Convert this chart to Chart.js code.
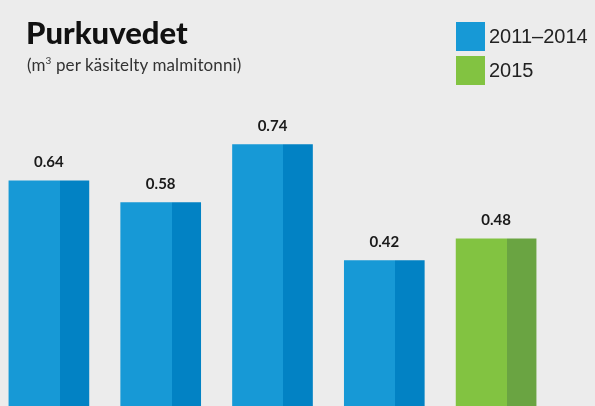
<!DOCTYPE html>
<html>
<head>
<meta charset="utf-8">
<script src="https://cdn.jsdelivr.net/npm/chart.js@4.4.0/dist/chart.umd.min.js"></script>
<style>
  html, body { margin: 0; padding: 0; background: #ececec; }
  body { width: 595px; height: 406px; overflow: hidden; position: relative; font-family: 'Lato', 'Noto Sans', sans-serif; }
  #title { position: absolute; left: 26px; top: 14px; font-size: 31px; font-weight: 900; color: #111; line-height: 36px; }
  #subtitle { position: absolute; left: 27px; top: 50px; font-size: 17px; letter-spacing: 0.1px; color: #333; line-height: 20px; }
  #legend { position: absolute; left: 456px; top: 22px; }
  .item { display: flex; align-items: center; height: 29px; margin-bottom: 5px; }
  .box { width: 29px; height: 29px; margin-right: 4px; }
  .lbl { font-family: 'Liberation Sans', 'Arial', sans-serif; font-size: 20px; color: #222; }
  #wrap { position: absolute; left: -7px; top: 0; width: 559px; height: 413px; }
</style>
</head>
<body>
<div id="wrap"><canvas id="grafica"></canvas></div>
<div id="title">Purkuvedet</div>
<div id="subtitle">(m<sup style="font-size:10px">3</sup> per käsitelty malmitonni)</div>
<div id="legend"></div>
<script>
// datos
const vuodet = ['2011', '2012', '2013', '2014', '2015'];
const arvot = [0.64, 0.58, 0.74, 0.42, 0.48];
const jakso = [0, 0, 0, 0, 1]; // 0 = 2011–2014, 1 = 2015
const jaksoNimet = ['2011–2014', '2015'];
const vaaleat = ['#1799d6', '#82c341'];
const tummat = ['#0282c4', '#6aa442'];

// leyenda
const $legend = document.querySelector('#legend');
jaksoNimet.forEach((n, i) => {
    $legend.innerHTML += '<div class="item"><div class="box" style="background:' + vaaleat[i] + '"></div><span class="lbl">' + n + '</span></div>';
});

const BAR_W = 80;
const LIGHT_W = 51;

// color de dos tonos por barra
const kaksiSavya = (ctx) => {
    const k = jakso[ctx.dataIndex] || 0;
    const x = ctx.chart.scales.x;
    if (!x || ctx.dataIndex === undefined) return vaaleat[k];
    const cx = x.getPixelForValue(ctx.dataIndex);
    if (!isFinite(cx)) return vaaleat[k];
    const g = ctx.chart.ctx.createLinearGradient(cx - BAR_W / 2, 0, cx + BAR_W / 2, 0);
    const s = LIGHT_W / BAR_W;
    g.addColorStop(0, vaaleat[k]);
    g.addColorStop(s, vaaleat[k]);
    g.addColorStop(s, tummat[k]);
    g.addColorStop(1, tummat[k]);
    return g;
};

// etiquetas de valores
const arvoTekstit = {
    id: 'arvoTekstit',
    afterDatasetsDraw(chart) {
        const c = chart.ctx;
        c.save();
        c.font = 'bold 15px Lato, "Noto Sans", sans-serif';
        c.fillStyle = '#1a1a1a';
        c.textAlign = 'center';
        c.textBaseline = 'alphabetic';
        chart.getDatasetMeta(0).data.forEach((bar, i) => {
            c.fillText(arvot[i].toFixed(2), bar.x, bar.y - 14);
        });
        c.restore();
    }
};

const $grafica = document.querySelector('#grafica');
new Chart($grafica, {
    type: 'bar',
    data: {
        labels: vuodet,
        datasets: [{
            data: arvot,
            backgroundColor: kaksiSavya,
            borderWidth: 0,
            barThickness: BAR_W
        }]
    },
    options: {
        responsive: true,
        maintainAspectRatio: false,
        animation: false,
        events: [],
        layout: { padding: { top: 14, bottom: 0, left: 0, right: 0 } },
        plugins: { legend: { display: false }, tooltip: { enabled: false } },
        scales: {
            x: { display: false },
            y: { display: false, min: 0, max: 1.1 }
        }
    },
    plugins: [arvoTekstit]
});
</script>
</body>
</html>
